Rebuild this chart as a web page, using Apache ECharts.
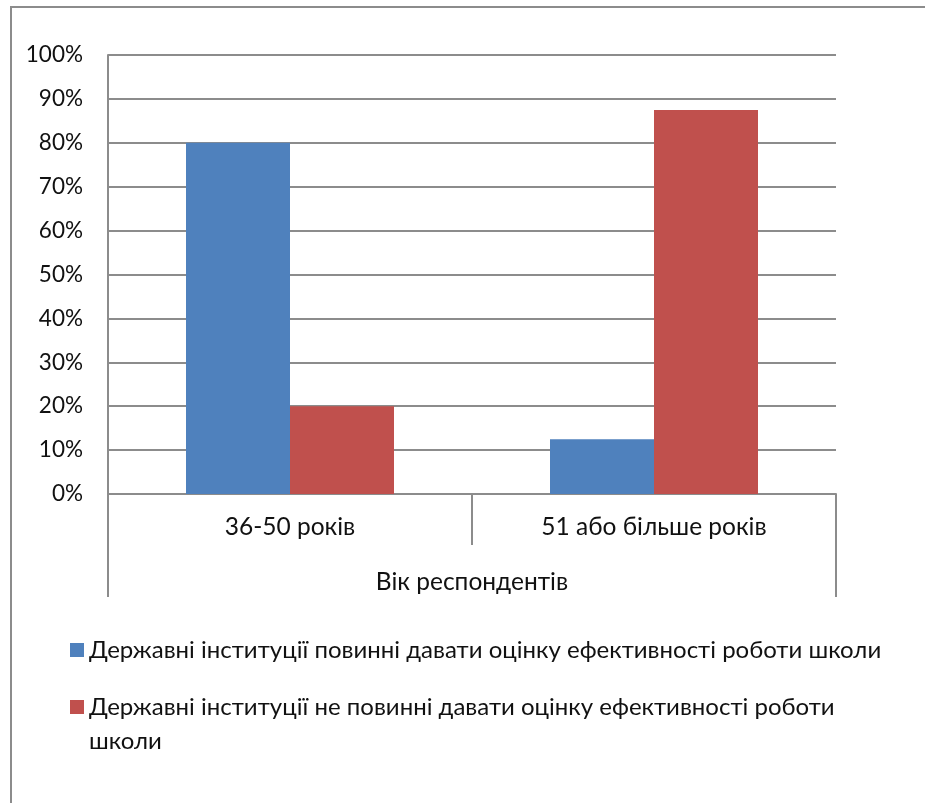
<!DOCTYPE html>
<html>
<head>
<meta charset="utf-8">
<script src="https://cdn.jsdelivr.net/npm/echarts@6/dist/echarts.min.js"></script>
<style>
html,body{margin:0;padding:0;background:#fff;}
#chart{width:925px;height:803px;}
</style>
</head>
<body>
<div id="chart"></div>
<script>
var categories = ['36-50 років', '51 або більше років'];
var outerCategory = ['Вік респондентів'];
var seriesNames = [
  'Державні інституції повинні давати оцінку ефективності роботи школи',
  'Державні інституції не повинні давати оцінку ефективності роботи школи'
];
var seriesYes = [80, 12.5];
var seriesNo = [20, 87.5];
var yTicks = [0, 10, 20, 30, 40, 50, 60, 70, 80, 90, 100];

var FONT = 'Lato, "Open Sans", sans-serif';
var GRAY = '#8c8c8c';
var FS = 24.5;
var LEGEND_FS = 24;
var LEGEND_MAX_W = 800;
var LINE_H = 34;

// word-wrap a legend label to the available width, measured with the same font
var measureCtx = document.createElement('canvas').getContext('2d');
function wrapText(text) {
  measureCtx.font = LEGEND_FS + 'px ' + FONT;
  var words = text.split(' ');
  var lines = [];
  var cur = '';
  words.forEach(function (w) {
    var trial = cur ? cur + ' ' + w : w;
    if (cur && measureCtx.measureText(trial).width > LEGEND_MAX_W) {
      lines.push(cur);
      cur = w;
    } else {
      cur = trial;
    }
  });
  if (cur) lines.push(cur);
  return lines;
}

function legendFor(i, firstLineCenter) {
  var lines = wrapText(seriesNames[i]);
  var n = lines.length;
  var blockH = n * LINE_H;
  // square icon aligned to the first text line
  var sq = 14;
  var iconH = n > 1 ? blockH - LINE_H + sq : sq;
  var icon = n > 1
    ? 'path://M0,0h' + sq + 'v' + sq + 'h-' + sq + 'z' + 'M0,' + (iconH - 0.01) + 'h0.01v0.01h-0.01z'
    : 'rect';
  return {
    orient: 'vertical',
    left: 65,
    top: firstLineCenter - LINE_H / 2 - 5,
    padding: 5,
    itemWidth: sq,
    itemHeight: iconH,
    icon: icon,
    data: [seriesNames[i]],
    formatter: function () { return lines.join('\n'); },
    textStyle: {
      fontFamily: FONT, fontSize: LEGEND_FS, color: '#111', lineHeight: LINE_H
    }
  };
}

var chart = echarts.init(document.getElementById('chart'), null, {renderer: 'canvas'});
chart.setOption({
  animation: false,
  backgroundColor: '#ffffff',
  textStyle: {fontFamily: FONT},
  graphic: [{
    type: 'rect',
    shape: {x: 11, y: 7, width: 1000, height: 1000},
    style: {fill: 'none', stroke: GRAY, lineWidth: 2},
    silent: true, z: -1
  }],
  grid: {left: 108, top: 55, width: 728, height: 439, containLabel: false},
  legend: [legendFor(0, 650), legendFor(1, 707)],
  xAxis: [{
    type: 'category',
    data: categories,
    position: 'bottom',
    axisLine: {show: true, lineStyle: {color: GRAY, width: 2}},
    axisTick: {show: true, length: 51, alignWithLabel: false, lineStyle: {color: GRAY, width: 2}},
    axisLabel: {margin: 21, fontSize: FS, color: '#111', fontFamily: FONT},
    splitLine: {show: false}
  }, {
    type: 'category',
    data: outerCategory,
    position: 'bottom',
    axisLine: {show: false},
    axisTick: {show: true, length: 103, alignWithLabel: false, lineStyle: {color: GRAY, width: 2}},
    axisLabel: {margin: 76, fontSize: FS, color: '#111', fontFamily: FONT},
    splitLine: {show: false}
  }],
  yAxis: {
    type: 'value',
    min: 0, max: 100, interval: 10,
    axisLine: {show: true, lineStyle: {color: GRAY, width: 2}},
    axisTick: {show: false},
    axisLabel: {
      margin: 25, fontSize: 22.5, color: '#111', fontFamily: FONT,
      formatter: function (v) { return yTicks.indexOf(v) >= 0 ? v + '%' : ''; }
    },
    splitLine: {show: true, lineStyle: {color: GRAY, width: 2}}
  },
  series: [{
    name: seriesNames[0],
    type: 'bar',
    xAxisIndex: 0,
    data: seriesYes,
    barWidth: 104,
    barGap: '0%',
    itemStyle: {color: '#4F81BD'}
  }, {
    name: seriesNames[1],
    type: 'bar',
    xAxisIndex: 0,
    data: seriesNo,
    barWidth: 104,
    barGap: '0%',
    itemStyle: {color: '#C0504D'}
  }]
});
</script>
</body>
</html>
